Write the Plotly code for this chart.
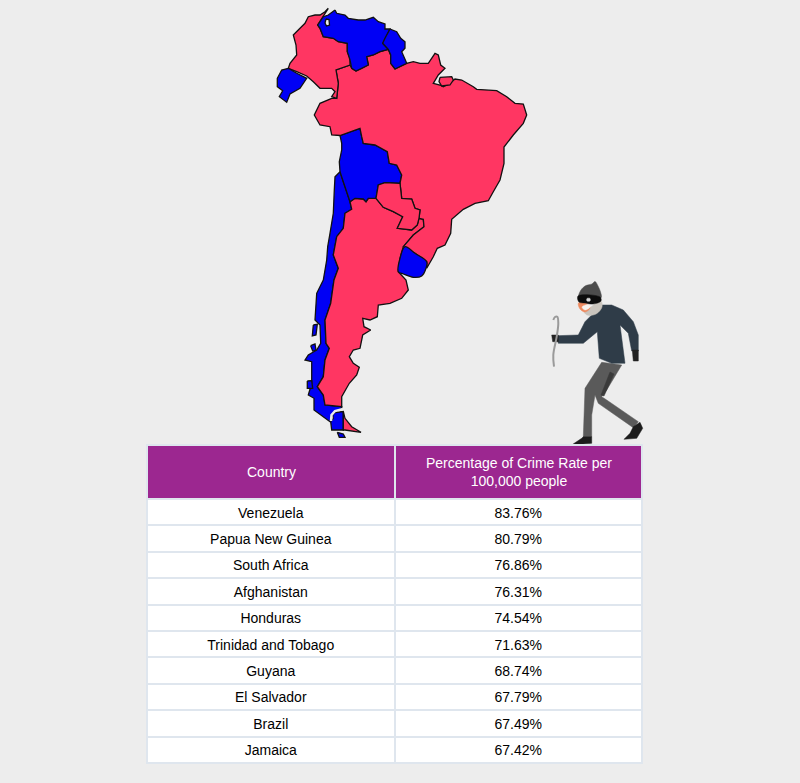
import plotly.graph_objects as go

# table data
countries = ["Venezuela", "Papua New Guinea", "South Africa", "Afghanistan", "Honduras",
             "Trinidad and Tobago", "Guyana", "El Salvador", "Brazil", "Jamaica"]
crime_rate = ["83.76%", "80.79%", "76.86%", "76.31%", "74.54%",
              "71.63%", "68.74%", "67.79%", "67.49%", "67.42%"]
header_country = "Country"
header_rate = "Percentage of Crime Rate per<br>100,000 people"

# map outlines
colombia = [(328.3,8.3),(325,11.7),(320,15),(315,15),(308.3,16.7),(305,23.3),(300,28.3),(293.3,35),(296,45),(296.7,55),
            (290,63.3),(288.3,68.3),(296.7,71.7),(306.7,76),(313.3,81.7),(320,88.3),(331.7,88.3),(335,91.7),(331.7,96.7),
            (336.7,98.3),(338.3,83.3),(336,70),(350,65),(350,58.3),(347.3,51.7),(347.3,43.3),(338.3,41.7),(333.3,38.3),
            (323.3,36.7),(320,28.3),(317.7,25),(323.3,16.7)]
venezuela = [(335,10),(336.7,13.3),(345,15),(348.3,18.3),(358.3,20),(365,20),(373.3,17.3),(378.3,21.7),(385,24),(385,29),
             (390,29),(385,38.3),(382.7,43.3),(388.3,49.3),(380,51.7),(373.3,55),(366.7,56.7),(368.3,65),(361.7,68.3),
             (356,71),(351.7,68.3),(350,60),(347.3,51.7),(347.3,43.3),(338.3,41.7),(333.3,38.3),(323.3,36.7),(320,28.3),
             (317.7,25),(323.3,16.7),(328.3,15)]
maracaibo = [(326,19),(329,19.5),(329.5,25),(326.5,26),(325,23)]
guyana = [(390,29),(396.7,31.7),(400.7,38.3),(405,41.7),(405,48.3),(401.7,51.7),(406.7,63.3),(395,69),(390.7,63.3),
          (390.7,55),(388.3,49.3),(382.7,43.3),(385,38.3)]
ecuador = [(288.3,68.3),(281.7,70),(277.3,78.3),(277.3,86.7),(282.7,90.7),(279.3,96.7),(286.7,102.3),(290,94),(300,88.3),
           (306.7,78.3),(296.7,73.3)]
brazil = [(336,70),(350,65),(351.7,68.3),(356,71),(361.7,68.3),(368.3,65),(366.7,56.7),(373.3,55),(380,51.7),(388.3,49.3),
          (390.7,55),(390.7,63.3),(395,69),(406.7,63.3),(413.3,61.7),(420,63.3),(428.3,63.3),(435,53.3),(438.3,55),(440.7,65),
          (445,68.3),(438.3,75),(433.3,83.3),(440,85),(443.3,86.7),(450,83.3),(455,79),(461.7,80),(473.3,86.7),(476.7,89.3),
          (496.7,90.7),(506.7,96.7),(515,103.3),(523.3,104),(526.7,115),(523.3,123.3),(513.3,135),(504,147),(504,163.3),
          (500,180),(493.3,191.7),(488.3,200.7),(475,203.3),(463.3,209.3),(451.7,219.3),(450.7,233.3),(445,245),(437.3,248.3),
          (433.3,256.7),(426.7,268.3),(426.7,261.7),(415,253.3),(403.3,246.7),(413.3,235),(424,226.7),(423.3,219.3),(419,218.3),
          (420,210),(415,208.3),(411.7,199),(401.7,198.3),(400,183.3),(401.7,175),(396.7,165),(389.3,163.3),(387.3,151.7),
          (375,145),(363.3,143.3),(361.7,136.7),(360,128.3),(340,135.5),(331.7,135),(330,126.7),(320,125),(314.3,115),(320,103.3),
          (331.7,98.3),(336.7,98.3),(338.3,83.3)]
fr_guiana = [(440,77.3),(451.7,76.7),(453.3,80),(450,85),(441.7,86),(439,81.7)]
bolivia = [(340,135.5),(360,128.3),(361.7,136.7),(363.3,143.3),(375,145),(387.3,151.7),(389.3,163.3),(396.7,165),(401.7,175),(400,183.3),
           (385,182.7),(378.3,185),(376,198.3),(368.3,198.3),(366,201.7),(363.3,199),(355,198.3),(350,201.7),(343.3,181.7),
           (340,171.7),(339.3,161.7),(341.7,150),(341.7,143.3)]
paraguay = [(385,182.7),(400,183.3),(401.7,198.3),(411.7,199),(415,208.3),(420,210),(419,218.3),(417.3,225),(411.7,230),
            (397.3,228.3),(402.7,216.7),(393.3,211.7),(383.3,207.3),(376,198.3),(378.3,185)]
uruguay = [(405,246.7),(415,253.3),(426.7,261.7),(426,268.3),(421.7,276),(413.3,277.3),(403.3,274),(398.3,271.7),(400,258.3)]
argentina = [(355,198.3),(363.3,199),(366,201.7),(368.3,198.3),(376,198.3),(383.3,207.3),(393.3,211.7),(402.7,216.7),
             (397.3,228.3),(411.7,230),(417.3,225),(419,218.3),(423.3,219.3),(424,226.7),(413.3,235),(403.3,246.7),(400,258.3),
             (398.3,271.7),(406,280),(408.3,290),(401.7,298.3),(390,303.3),(378.3,305),(377.3,316.7),(370,320),(362.7,318.3),
             (364,326.7),(370.7,330),(362.7,335),(360,348.3),(353.3,350),(349.3,356.7),(353.3,363.3),(359.3,367.3),(356.7,375),
             (349.3,383.3),(341.7,396.7),(341.7,406.7),(325,405),(323.3,395),(317.3,386.7),(323.3,376.7),(325,360),(329.3,348.3),
             (326,343.3),(325,320),(330.7,303.3),(334,280),(338.3,268.3),(333.3,255),(336.7,236.7),(343.3,228.3),(345,213.3),
             (351.7,209.3),(350,201.7)]
chile = [(340,171.7),(335,176.7),(334.3,190),(333.3,213.3),(330,233.3),(327.7,246.7),(326.7,260),(323.3,280),(316.7,293.3),
         (315,320),(320,325),(320.7,343.3),(316.7,350),(308.3,355),(305,360),(311.7,361.7),(311.7,376.7),(311.7,383.3),(308.3,395),
         (314,398.3),(314,410),(323.3,416.7),(330,421.7),(331.7,415),(341.7,408.3),(341.7,406.7),(325,405),(323.3,395),(317.3,386.7),
         (323.3,376.7),(325,360),(329.3,348.3),(326,343.3),(325,320),(330.7,303.3),(334,280),(338.3,268.3),(333.3,255),(336.7,236.7),
         (343.3,228.3),(345,213.3),(351.7,209.3),(350,201.7),(343.3,181.7)]
fuego_blue = [(335,412.5),(343.3,411.5),(343.3,430),(331.7,430),(330.7,421.7),(333.3,418.3),(332.7,415)]
fuego_red = [(343.3,411.5),(345,418.3),(351.7,426.7),(361,432.3),(345,430),(343.3,430)]
strait = [(331,421),(331.5,415),(335,411),(343,409)]
island_1 = [(313.3,325),(317.3,324.3),(316,335),(312.3,336)]
island_2 = [(310.7,345.7),(315,344),(316,350),(312.7,351)]
island_3 = [(307.3,381),(311.7,380.7),(312.7,388.3),(307.3,388.3)]
island_4 = [(337.3,432.3),(343.3,434),(345,437.3),(339.3,437.3)]

# thief illustration
hat = [(579,297),(581,290),(586,285.5),(592,284),(595,281.5),(598,286),(600.5,292),(601,298)]
mask = [(578,296),(600,297),(601,301),(593,304),(585,303),(579,302)]
eye = [(587,298.5),(590,298.5),(590,301),(587,301)]
skin = [(578.5,303),(587,303.5),(590,308),(585,312),(580,309)]
teeth = [(582,307),(589,304.5),(590,307),(585,310)]
beard = [(584,311),(591,307),(596,303),(601,301),(602,307),(596,314),(587,315)]
jacket = [(601.7,305),(611.7,305),(623.3,310),(633.3,321.7),(638.3,335),(638.3,351),(631.7,351),(628.3,333.3),(620,325),
          (625,363.3),(611.7,363.3),(599.3,358.3),(597.3,331.7),(583.3,343.3),(558.3,343.3),(556.7,335.7),(578.3,335),(585,321.7)]
glove_l = [(551.7,335),(558.3,335),(558.3,341.7),(552.7,341.7)]
glove_r = [(632.3,350),(638.3,350),(638.3,361),(633.3,361)]
crowbar = [(553.3,320),(555,317),(557.3,316.7),(558.3,323.3),(556.7,336.7),(553.3,355),(554,366.7)]
leg = [(601.7,362.3),(621.7,365),(606.7,390),(601.7,396.7),(606.7,400),(638.3,421.7),(633.3,427.7),(598.3,403.3),(595,395),
       (591.7,415),(591.7,436.7),(583.3,436.7),(585,388.3)]
leg_shadow = [(610,372),(614,374),(604,396),(601,395)]
boot_1 = [(583.3,436.7),(591.7,436.7),(591.7,443.3),(571.7,445),(581.7,438.3)]
boot_2 = [(633.3,426.7),(640,422.3),(642.7,428.3),(636.7,438.3),(624,439.3),(630,433.3)]

BG = "#ededed"
RED = "#ff3662"
BLUE = "#0000f5"


def poly(points, fill, line="#111111", width=1.3, shape="linear"):
    return go.Scatter(x=[p[0] for p in points] + [points[0][0]],
                      y=[p[1] for p in points] + [points[0][1]],
                      mode="lines", fill="toself", fillcolor=fill,
                      line=dict(color=line, width=width, shape=shape), hoverinfo="skip", showlegend=False)


fig = go.Figure()

for shape, col in [(chile, BLUE), (argentina, RED), (bolivia, BLUE), (brazil, RED), (colombia, RED), (venezuela, BLUE),
                   (guyana, BLUE), (ecuador, BLUE), (paraguay, RED), (fr_guiana, RED), (maracaibo, BG),
                   (fuego_blue, BLUE), (fuego_red, RED), (island_1, BLUE), (island_2, BLUE), (island_3, BLUE), (island_4, BLUE)]:
    fig.add_trace(poly(shape, col))
fig.add_trace(poly(uruguay, BLUE, shape="spline"))
fig.add_trace(go.Scatter(x=[p[0] for p in strait], y=[p[1] for p in strait], mode="lines",
                         line=dict(color=BG, width=2.5), hoverinfo="skip", showlegend=False))

for shape, col in [(leg, "#5a5a5a"), (leg_shadow, "#3a3a3a"), (boot_1, "#1c1c1c"), (boot_2, "#1c1c1c"), (jacket, "#2f3c48"),
                   (glove_l, "#222222"), (glove_r, "#222222")]:
    fig.add_trace(poly(shape, col, line=col, width=0.5))
for shape, col in [(hat, "#4c4c4c"), (beard, "#c9c4bd"), (skin, "#ee8a5f"), (teeth, "#f7f3ee"), (mask, "#0c0c0c"), (eye, "#d8d8d8")]:
    fig.add_trace(poly(shape, col, line=col, width=0.5, shape="spline"))

fig.add_trace(go.Scatter(x=[p[0] for p in crowbar], y=[p[1] for p in crowbar], mode="lines",
                         line=dict(color="#9a9a9a", width=2, shape="spline"), hoverinfo="skip", showlegend=False))

# header text goes in annotations, table cells can't centre it vertically
fig.add_trace(go.Table(
    domain=dict(x=[147 / 800, 642 / 800], y=[1 - 764 / 783, 1 - 445 / 783]),
    columnwidth=[248, 248],
    header=dict(values=["", ""], height=54, align="center",
                fill_color="#9c2790", line=dict(color="#dfe6ee", width=2),
                font=dict(family="Liberation Sans", size=14, color="white")),
    cells=dict(values=[countries, crime_rate], height=26.4, align="center",
               fill_color="white", line=dict(color="#dfe6ee", width=2),
               font=dict(family="Liberation Sans", size=14, color="black")),
))

for xpos, label in [(271, header_country), (518.5, header_rate)]:
    fig.add_annotation(x=xpos, y=472, xref="x", yref="y", text=label, showarrow=False, align="center",
                       font=dict(family="Liberation Sans", size=14, color="white"))

fig.update_xaxes(range=[0, 800], visible=False, domain=[0, 1])
fig.update_yaxes(range=[783, 0], visible=False, domain=[0, 1])
fig.update_layout(width=800, height=783, margin=dict(l=0, r=0, t=0, b=0),
                  paper_bgcolor=BG, plot_bgcolor=BG, showlegend=False)

fig.write_html("out.html", config={"displayModeBar": False},
               post_script="document.body.style.margin='0';document.body.style.background='#ededed';")
